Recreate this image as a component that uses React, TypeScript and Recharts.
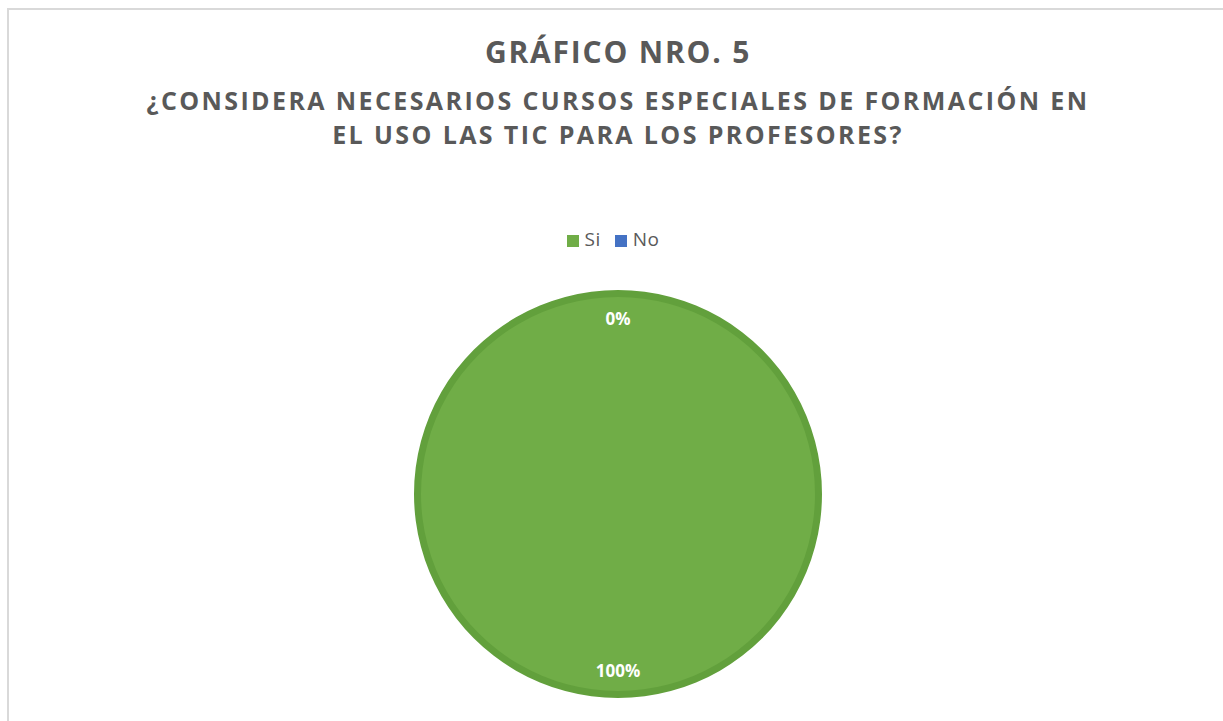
import React from 'react';
import { PieChart, Pie, Cell, Legend } from 'recharts';

const categories = ['Si', 'No'];
const values = [100, 0];
const percentLabels = ['100%', '0%'];
const colors = ['#70AD47', '#4472C4'];
const borderColors = ['#62A03C', '#3A65B0'];

const data = categories.map((name, i) => ({ name, value: values[i], label: percentLabels[i] }));

const FONT = '"Open Sans", sans-serif';

const RAD = Math.PI / 180;

function renderLabel(props: any) {
  const { cx, cy, midAngle, index } = props;
  const r = 176;
  const x = cx + r * Math.cos(-midAngle * RAD);
  const y = cy + r * Math.sin(-midAngle * RAD);
  return (
    <text
      x={x}
      y={y}
      fill="#ffffff"
      textAnchor="middle"
      dominantBaseline="central"
      fontFamily={FONT}
      fontWeight={700}
      fontSize={17}
    >
      {data[index].label}
    </text>
  );
}

export default function App() {
  return (
    <div style={{ position: 'absolute', left: 0, top: 0, width: 1223, height: 721, background: '#fff', overflow: 'hidden' }}>
      <div
        style={{
          position: 'absolute',
          left: 7,
          top: 8,
          width: 1300,
          height: 800,
          borderTop: '2px solid #d9d9d9',
          borderLeft: '2px solid #d9d9d9',
        }}
      />
      <div
        style={{
          position: 'absolute',
          left: 0,
          top: 30,
          width: 1236,
          textAlign: 'center',
          fontFamily: FONT,
          fontWeight: 700,
          color: '#595959',
        }}
      >
        <div style={{ fontSize: 30, lineHeight: '44px', letterSpacing: 1.8 }}>GRÁFICO NRO. 5</div>
        <div style={{ fontSize: 25, lineHeight: '34px', letterSpacing: 2.4, marginTop: 9 }}>
          ¿CONSIDERA NECESARIOS CURSOS ESPECIALES DE FORMACIÓN EN
        </div>
        <div style={{ fontSize: 25, lineHeight: '34px', letterSpacing: 2.4 }}>
          EL USO LAS TIC PARA LOS PROFESORES?
        </div>
      </div>
      <div style={{ position: 'absolute', left: 0, top: 0 }}>
        <PieChart width={1223} height={721} margin={{ top: 0, right: 0, bottom: 0, left: 0 }}>
          <Legend
            verticalAlign="middle"
            align="center"
            layout="horizontal"
            iconType="square"
            iconSize={12}
            itemSorter={(item: any) => categories.indexOf(item.value)}
            wrapperStyle={{ top: 226, left: 0, width: 1240, height: 28, fontFamily: FONT, fontSize: 19 }}
            formatter={(value: string) => (
              <span style={{ color: '#595959', fontSize: 19, marginLeft: 2, marginRight: 4, letterSpacing: 0.5 }}>{value}</span>
            )}
          />
          <Pie
            data={data}
            dataKey="value"
            nameKey="name"
            cx={618}
            cy={494}
            outerRadius={204}
            startAngle={90}
            endAngle={-270}
            stroke="none"
            legendType="none"
            isAnimationActive={false}
          >
            {data.map((d, i) => (
              <Cell key={d.name} fill={borderColors[i]} />
            ))}
          </Pie>
          <Pie
            data={data}
            dataKey="value"
            nameKey="name"
            cx={618}
            cy={494}
            outerRadius={197}
            startAngle={90}
            endAngle={-270}
            stroke="none"
            label={renderLabel}
            labelLine={false}
            isAnimationActive={false}
          >
            {data.map((d, i) => (
              <Cell key={d.name} fill={colors[i]} />
            ))}
          </Pie>
        </PieChart>
      </div>
    </div>
  );
}
